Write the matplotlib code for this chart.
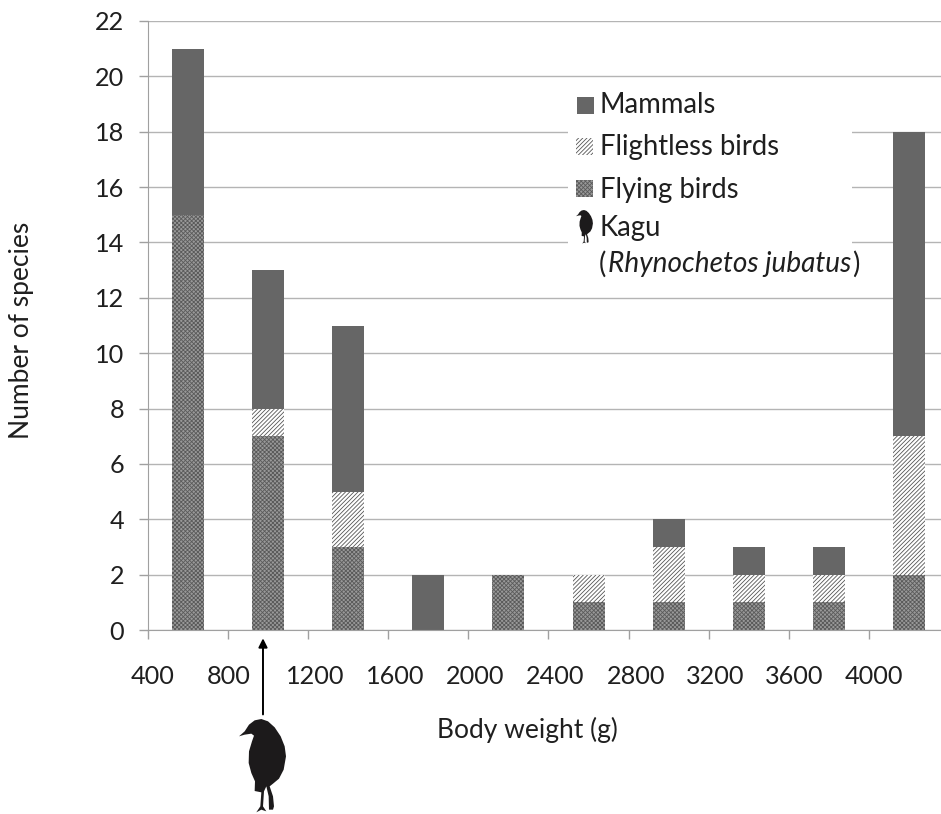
import numpy as np
import matplotlib
matplotlib.use("Agg")
import matplotlib.pyplot as plt
from matplotlib.patches import PathPatch, Rectangle
from matplotlib.path import Path
from matplotlib.transforms import ScaledTranslation

plt.rcParams['font.family'] = ['Lato', 'DejaVu Sans']
plt.rcParams['hatch.linewidth'] = 0.6

W, H = 941, 814

bin_centers = [600, 1000, 1400, 1800, 2200, 2600, 3000, 3400, 3800, 4200]
flying = [15, 7, 3, 0, 2, 1, 1, 1, 1, 2]
flightless = [0, 1, 2, 0, 0, 1, 2, 1, 1, 5]
mammals = [6, 5, 6, 2, 0, 0, 1, 1, 1, 11]
x_ticks = [400, 800, 1200, 1600, 2000, 2400, 2800, 3200, 3600, 4000]
y_ticks = list(range(0, 24, 2))

bird = np.array([
    (58, 320), (75, 305), (88, 285), (105, 272), (125, 268), (145, 275), (165, 293),
    (183, 320), (195, 350), (199, 380), (192, 420), (178, 447), (160, 462), (150, 470),
    (160, 500), (163, 530), (160, 540), (148, 540), (147, 500), (140, 470), (133, 485),
    (130, 530), (140, 545), (125, 540), (110, 548), (122, 530), (125, 488), (105, 484),
    (106, 455), (95, 430), (87, 400), (88, 365), (97, 335), (103, 318), (95, 312),
    (75, 315), (58, 320),
], dtype=float)


def px(x, y):
    return x / W, 1 - y / H


def add_bird(fig, x0, y0, scale):
    pts = (bird - bird.min(axis=0)) * scale + [x0, y0]
    verts = [px(a, b) for a, b in pts]
    fig.add_artist(PathPatch(Path(verts, closed=True), transform=fig.transFigure,
                             fc='#1c1a1b', ec='none'))


fig = plt.figure(figsize=(W / 100, H / 100), dpi=100)
ax = fig.add_axes([147.5 / W, 1 - 630 / H, 1 - 147.5 / W, 609 / H])

fly_style = dict(facecolor='#999999', edgecolor='#5a5a5a', hatch='xxxxxxxx', linewidth=0)
nofly_style = dict(facecolor='white', edgecolor='#555555', hatch='////////', linewidth=0)
mam_style = dict(facecolor='#666666', edgecolor='none', linewidth=0)

flying = np.array(flying)
flightless = np.array(flightless)
mammals = np.array(mammals)
ax.bar(bin_centers, flying, width=160, **fly_style)
ax.bar(bin_centers, flightless, width=160, bottom=flying, **nofly_style)
ax.bar(bin_centers, mammals, width=160, bottom=flying + flightless, **mam_style)

ax.set_xlim(400, 400 + (W - 147.5) / 80.2 * 400)
ax.set_ylim(0, 22)
ax.set_xticks(x_ticks)
ax.set_yticks(y_ticks)
ax.set_axisbelow(True)
ax.grid(axis='y', color='#b4b4b4', lw=1)
for s in ['top', 'right']:
    ax.spines[s].set_visible(False)
for s in ['left', 'bottom']:
    ax.spines[s].set_color('#a0a0a0')
ax.tick_params(axis='both', color='#a0a0a0', length=6.3, width=1, labelsize=18.2,
               labelcolor='#1f1f1f')
ax.tick_params(axis='x', pad=19)
ax.tick_params(axis='y', pad=10.5)

# the original labels sit unevenly to the right of their ticks, offset in pixels
label_shift = [5, 0.5, 7, 7, 7, 7, 7, 6, 5, 5]
for lbl, dx in zip(ax.get_xticklabels(), label_shift):
    lbl.set_transform(lbl.get_transform() + ScaledTranslation(dx / 100, 0, fig.dpi_scale_trans))

ax.annotate('', xy=(976, -0.3), xytext=(976, -3.05), annotation_clip=False,
            arrowprops=dict(arrowstyle='-|>', color='black', lw=1.4, shrinkA=0, shrinkB=0,
                            mutation_scale=13))
add_bird(fig, 239, 719, 1 / 3)

fig.text(*px(527, 730), 'Body weight (g)', fontsize=19, color='#1f1f1f', ha='center', va='center')
fig.text(*px(22, 330), 'Number of species', fontsize=19, color='#1f1f1f', rotation=90,
         ha='center', va='center')

# legend block, hand placed like the original
fig.add_artist(Rectangle(px(568, 290), 284 / W, 205 / H, transform=fig.transFigure,
                         fc='white', ec='none'))
swatches = [(mam_style, 577, 97), (nofly_style, 576, 138), (fly_style, 576, 180)]
for style, x0, y0 in swatches:
    fig.add_artist(Rectangle(px(x0, y0 + 17), 17 / W, 17 / H, transform=fig.transFigure, **style))
labels = [('Mammals', 105), ('Flightless birds', 147), ('Flying birds', 190), ('Kagu', 228)]
for txt, y in labels:
    fig.text(*px(600, y), txt, fontsize=19.8, color='#1f1f1f', ha='left', va='center')
fig.text(*px(599, 264), '(', fontsize=19.8, color='#1f1f1f', ha='left', va='center')
fig.text(*px(608, 264), 'Rhynochetos jubatus', fontsize=20.2, style='italic', color='#1f1f1f',
         ha='left', va='center')
fig.text(*px(852, 264), ')', fontsize=19.8, color='#1f1f1f', ha='left', va='center')
add_bird(fig, 576, 210, 0.12)

fig.savefig('out.png', dpi=100)
